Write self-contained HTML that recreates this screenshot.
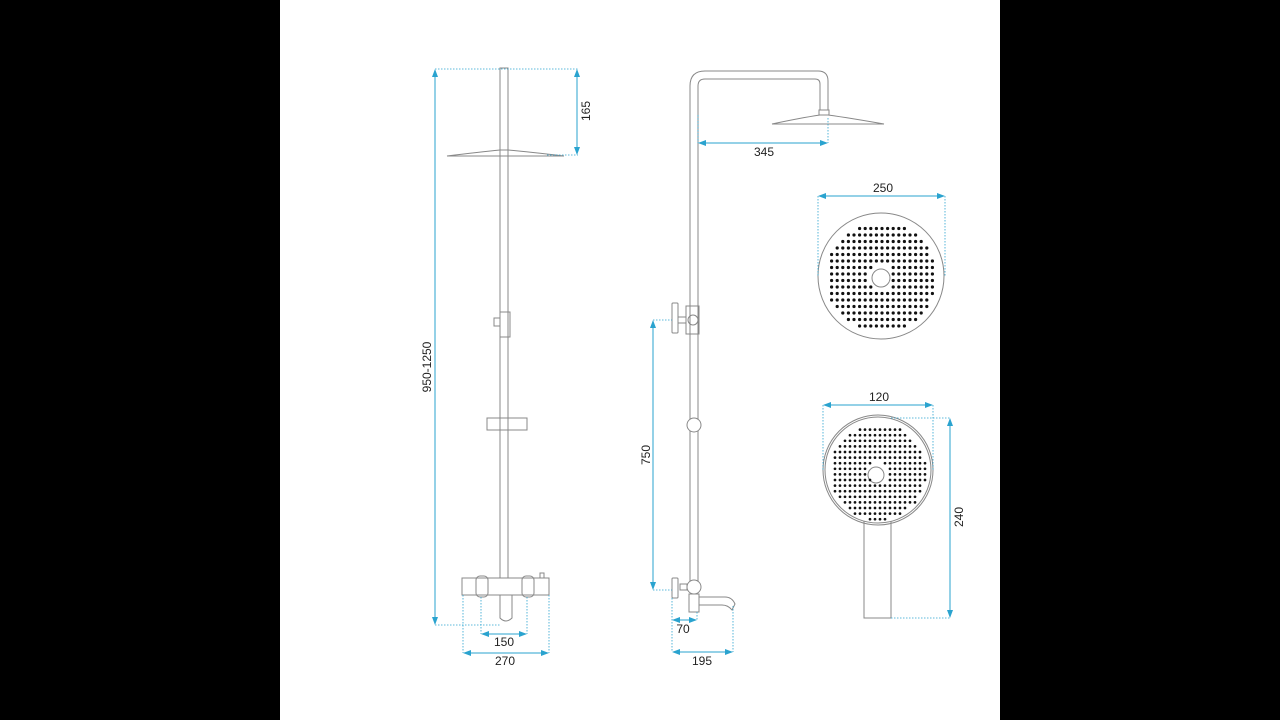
<!DOCTYPE html>
<html><head><meta charset="utf-8"><style>
html,body{margin:0;padding:0;background:#000;}
svg{display:block}
text{font-family:"Liberation Sans",sans-serif;font-size:12px;fill:#222}
</style></head><body>
<svg width="1280" height="720" viewBox="0 0 1280 720" xmlns="http://www.w3.org/2000/svg">
<defs>
<marker id="a" markerWidth="8" markerHeight="8" refX="7" refY="4" orient="auto-start-reverse" markerUnits="userSpaceOnUse"><path d="M0,1 L8,4 L0,7 Z" fill="#2aa3cf"/></marker>
</defs>
<rect x="280" y="0" width="720" height="720" fill="#fff"/>
<g fill="none" stroke="#888" stroke-width="1">
<rect x="500" y="68" width="8" height="510"/>
<path d="M447,156 Q480,152 500,150 L508,150 Q530,152 564,156 Z"/>
<rect x="500" y="312" width="10" height="25"/><rect x="494" y="318" width="6" height="8"/>
<rect x="487" y="418" width="40" height="12"/>
<rect x="462" y="578" width="87" height="17"/>
<rect x="476" y="576" width="12" height="21" rx="4"/><rect x="522" y="576" width="12" height="21" rx="4"/>
<rect x="540" y="573" width="4" height="5"/>
<path d="M500,595 L500,618 Q506,624 512,618 L512,595"/>
<path d="M690,590 L690,86 Q690,71 705,71 L818,71 Q828,71 828,81 L828,110 M698,590 L698,86 Q698,79 705,79 L815,79 Q820,79 820,84 L820,110"/>
<rect x="819" y="110" width="10" height="5"/>
<path d="M772,124 Q800,118 820,115 L828,115 Q850,118 884,124 Z"/>
<rect x="686" y="306" width="13" height="28"/><circle cx="693" cy="320" r="5"/>
<rect x="678" y="317" width="8" height="6"/><rect x="672" y="303" width="6" height="30" rx="1"/>
<circle cx="694" cy="425" r="7" fill="#fff"/>
<circle cx="694" cy="587" r="7" fill="#fff"/>
<rect x="680" y="584" width="7" height="6"/><rect x="672" y="578" width="6" height="20" rx="1"/>
<rect x="689" y="594" width="10" height="18"/>
<path d="M699,597 L725,597 Q732,597 735,604 L732,610 Q728,605 722,605 L699,605"/>
<circle cx="881" cy="276" r="63"/><circle cx="881" cy="278" r="9"/>
<circle cx="878" cy="470" r="55"/><circle cx="878" cy="470" r="53"/><circle cx="876" cy="475" r="8"/>
<path d="M864,521 L864,618 L891,618 L891,521"/>
</g>
<g id="dots" fill="#111"></g>
<g stroke="#2aa3cf" stroke-width="1" fill="none">
<g stroke-dasharray="1.5,1.5" stroke-width="0.8">
<path d="M435,69 L578,69 M435,625 L500,625 M547,155 L578,155 M481,597 L481,634 M527,597 L527,634 M463,595 L463,653 M549,595 L549,653"/>
<path d="M698,115 L698,143 M828,118 L828,143 M653,320 L672,320 M653,590 L672,590 M672,598 L672,652 M697,612 L697,620 M733,606 L733,652"/>
<path d="M818,196 L818,276 M945,196 L945,276 M823,405 L823,470 M933,405 L933,470 M891,418 L950,418 M891,618 L950,618"/>
</g>
<path d="M435,70 L435,624" marker-start="url(#a)" marker-end="url(#a)"/>
<path d="M577,70 L577,154" marker-start="url(#a)" marker-end="url(#a)"/>
<path d="M482,634 L526,634" marker-start="url(#a)" marker-end="url(#a)"/>
<path d="M464,653 L548,653" marker-start="url(#a)" marker-end="url(#a)"/>
<path d="M699,143 L827,143" marker-start="url(#a)" marker-end="url(#a)"/>
<path d="M653,321 L653,589" marker-start="url(#a)" marker-end="url(#a)"/>
<path d="M673,620 L696,620" marker-start="url(#a)" marker-end="url(#a)"/>
<path d="M673,652 L732,652" marker-start="url(#a)" marker-end="url(#a)"/>
<path d="M819,196 L944,196" marker-start="url(#a)" marker-end="url(#a)"/>
<path d="M824,405 L932,405" marker-start="url(#a)" marker-end="url(#a)"/>
<path d="M950,419 L950,617" marker-start="url(#a)" marker-end="url(#a)"/>
</g>
<text transform="translate(431,367) rotate(-90)" text-anchor="middle">950-1250</text>
<text transform="translate(590,111) rotate(-90)" text-anchor="middle">165</text>
<text x="504" y="646" text-anchor="middle">150</text>
<text x="505" y="665" text-anchor="middle">270</text>
<text x="764" y="156" text-anchor="middle">345</text>
<text transform="translate(650,455) rotate(-90)" text-anchor="middle">750</text>
<text x="683" y="633" text-anchor="middle">70</text>
<text x="702" y="665" text-anchor="middle">195</text>
<text x="883" y="192" text-anchor="middle">250</text>
<text x="879" y="401" text-anchor="middle">120</text>
<text transform="translate(963,517) rotate(-90)" text-anchor="middle">240</text>
</svg>
<script>
var g=document.getElementById('dots'),ns='http://www.w3.org/2000/svg';
function dots(cx,cy,R,hr,sy,sx,r){
 for(var y=-R;y<=R;y+=sy){for(var x=-R;x<=R;x+=sx){
  var d=Math.sqrt(x*x+y*y);if(d>R||d<hr)continue;
  var c=document.createElementNS(ns,'circle');c.setAttribute('cx',cx+x);c.setAttribute('cy',cy+y);c.setAttribute('r',r);g.appendChild(c);}}
}
dots(881,277,55,12,6.5,5.6,1.6);
dots(878,472,48,11,5.6,5,1.35);
</script>
</body></html>
